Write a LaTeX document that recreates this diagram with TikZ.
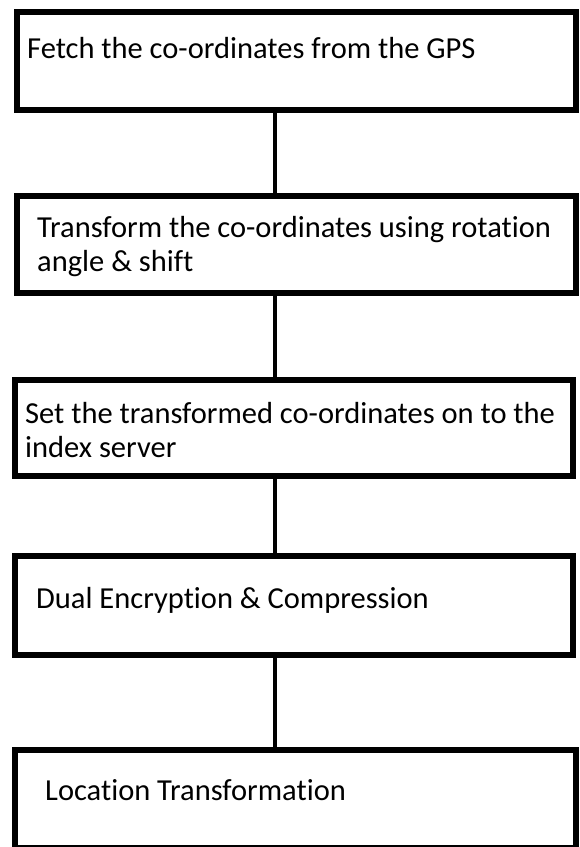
\documentclass[tikz,border=0pt]{standalone}
\usepackage{fontspec}
\setmainfont{Carlito}[Ligatures=NoCommon]
\usepackage{tikz}
\usetikzlibrary{positioning,calc}

\tikzset{
  stepbox/.style={draw, line width=6pt, rectangle, minimum width=559pt, minimum height=98pt, inner sep=0pt},
  steptext/.style={inner sep=0pt, anchor=west, align=left, font=\fontsize{30.5}{34}\selectfont},
  link/.style={line width=4.5pt}
}

\begin{document}
\begin{tikzpicture}[x=1pt, y=1pt]
    \useasboundingbox (0,0) rectangle (579,-847);

    % Boxes
    \node[stepbox] (fetch) at (296.5,-61) {};
    \node[stepbox, minimum height=97pt] (transform) at (296.5,-244.5) {};
    \node[stepbox, minimum width=558pt, minimum height=96pt] (setidx) at (294,-428) {};
    \node[stepbox, minimum width=558pt, minimum height=99pt] (encrypt) at (294,-605.5) {};
    \node[stepbox, minimum width=561pt] (locate) at (295.5,-799) {};

    % Texts
    \node[steptext] (fetchtxt) at (27,-48) {Fetch the co-ordinates from the GPS};
    \node[steptext] (transformtxt) at (37,-247) {Transform the co-ordinates using rotation\\angle \& shift};
    \node[steptext] (setidxtxt) at (25,-430) {Set the transformed co-ordinates on to the\\index server};
    \node[steptext] (encrypttxt) at (36,-600) {Dual Encryption \& Compression};
    \node[steptext] (locatetxt) at (45,-790) {Location Transformation};

    % Links
    \coordinate (spine) at (275,0);
    \draw[link] (fetch.south -| spine) -- (transform.north -| spine);
    \draw[link] (transform.south -| spine) -- (setidx.north -| spine);
    \draw[link] (setidx.south -| spine) -- (encrypt.north -| spine);
    \draw[link] (encrypt.south -| spine) -- (locate.north -| spine);
\end{tikzpicture}
\end{document}
